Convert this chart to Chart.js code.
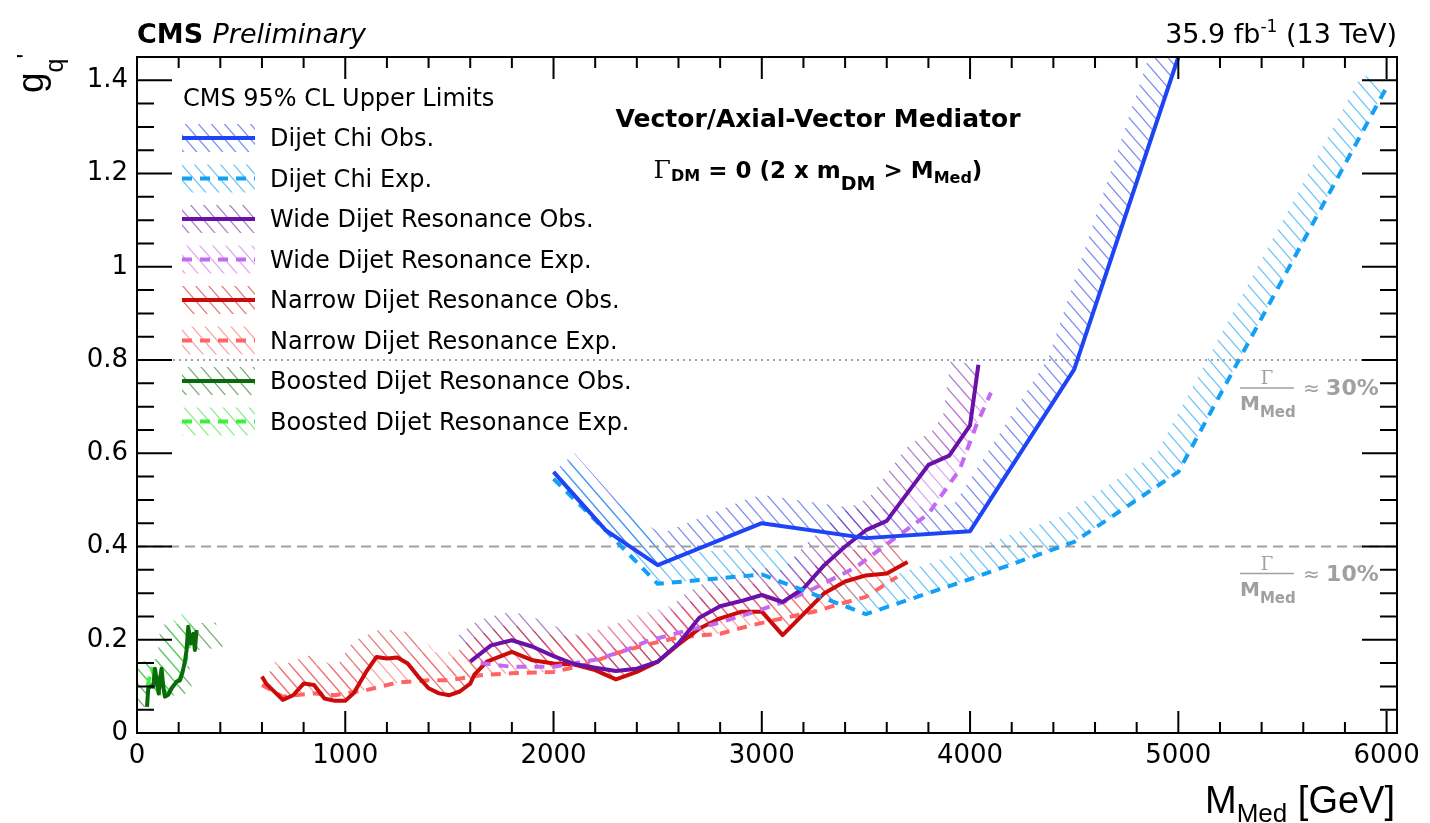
<!DOCTYPE html>
<html>
<head>
<meta charset="utf-8">
<title>Dijet DM limits</title>
<script src="https://cdn.jsdelivr.net/npm/chart.js@4.4.1/dist/chart.umd.min.js"></script>
<style>
  html, body { margin: 0; padding: 0; background: #fff; }
  canvas { display: block; }
</style>
</head>
<body>
<canvas id="grafico" width="1430" height="823"></canvas>
<script>
// x = M_Med (GeV), y = g_q' upper limit
const chiObsX = [2000, 2250, 2500, 3000, 3500, 4000, 4500, 5000];
const chiObsY = [0.56, 0.435, 0.36, 0.45, 0.418, 0.433, 0.78, 1.45];
const chiExpX = [2000, 2250, 2500, 3000, 3500, 4000, 4500, 5000, 6000];
const chiExpY = [0.545, 0.435, 0.32, 0.34, 0.255, 0.33, 0.41, 0.56, 1.385];

const wideObsX = [1600, 1700, 1800, 1900, 2000, 2100, 2200, 2300, 2400, 2500, 2600, 2700, 2800, 2900, 3000, 3100, 3200, 3300, 3400, 3500, 3600, 3700, 3800, 3900, 4000, 4040];
const wideObsY = [0.153, 0.188, 0.199, 0.185, 0.165, 0.148, 0.14, 0.133, 0.138, 0.153, 0.192, 0.247, 0.272, 0.283, 0.296, 0.281, 0.31, 0.36, 0.40, 0.435, 0.455, 0.515, 0.575, 0.595, 0.66, 0.79];
const wideExpX = [1650, 1800, 2000, 2200, 2350, 2450, 2600, 2800, 2950, 3100, 3250, 3450, 3600, 3800, 3950, 4030, 4100];
const wideExpY = [0.15, 0.142, 0.142, 0.157, 0.178, 0.197, 0.215, 0.237, 0.258, 0.28, 0.31, 0.355, 0.405, 0.47, 0.565, 0.66, 0.73];

const narrowObsX = [600, 620, 700, 750, 800, 850, 900, 950, 1000, 1040, 1100, 1150, 1200, 1250, 1300, 1350, 1400, 1450, 1500, 1550, 1600, 1620, 1680, 1800, 1900, 2000, 2100, 2200, 2300, 2400, 2500, 2600, 2700, 2800, 2900, 3000, 3100, 3200, 3300, 3400, 3500, 3600, 3700];
const narrowObsY = [0.121, 0.106, 0.071, 0.081, 0.106, 0.103, 0.074, 0.069, 0.069, 0.085, 0.131, 0.163, 0.16, 0.162, 0.149, 0.121, 0.096, 0.085, 0.081, 0.089, 0.106, 0.125, 0.153, 0.174, 0.156, 0.149, 0.147, 0.135, 0.115, 0.131, 0.153, 0.19, 0.224, 0.246, 0.26, 0.26, 0.21, 0.255, 0.30, 0.325, 0.338, 0.342, 0.367];
const narrowExpX = [600, 700, 850, 950, 1100, 1250, 1400, 1500, 1650, 1800, 2000, 2150, 2300, 2450, 2600, 2800, 2950, 3100, 3250, 3400, 3500, 3650];
const narrowExpY = [0.103, 0.078, 0.085, 0.081, 0.092, 0.108, 0.113, 0.113, 0.124, 0.128, 0.131, 0.146, 0.171, 0.19, 0.205, 0.213, 0.231, 0.246, 0.26, 0.28, 0.292, 0.335];

const boostObsX = [48, 54, 66, 78, 86, 96, 104, 112, 118, 126, 134, 142, 150, 166, 190, 206, 219, 230, 238, 246, 258, 270, 278, 286];
const boostObsY = [0.056, 0.096, 0.10, 0.099, 0.138, 0.11, 0.085, 0.12, 0.138, 0.10, 0.078, 0.08, 0.082, 0.096, 0.11, 0.113, 0.131, 0.153, 0.178, 0.228, 0.192, 0.213, 0.178, 0.221];
const boostExpX = [50, 70, 90, 110, 130, 150, 170, 190, 210, 230, 250, 270, 294];
const boostExpY = [0.10, 0.138, 0.115, 0.08, 0.09, 0.085, 0.098, 0.108, 0.12, 0.15, 0.19, 0.2, 0.205];

// width/mass reference lines
const refX = [0, 6050];
const ref30Y = [0.8, 0.8];
const ref10Y = [0.4, 0.4];

const xTicks = [0, 1000, 2000, 3000, 4000, 5000, 6000];
const yTicks = [0, 0.2, 0.4, 0.6, 0.8, 1, 1.2, 1.4];

const FONT = '"DejaVu Sans"';
const GRAY = '#a0a0a0';
const HATCH_W = 28;

function pts(xs, ys) {
  return xs.map((x, i) => ({ x: x, y: ys[i] }));
}

function serie(label, xs, ys, color, hatch, dashed) {
  return {
    label: label,
    data: pts(xs, ys),
    borderColor: color,
    borderWidth: 4,
    borderDash: dashed ? [10, 8] : [],
    hatchColor: hatch,
    pointRadius: 0,
    tension: 0,
    fill: false,
    borderJoinStyle: 'round'
  };
}

// small tile with one "\" stroke, repeated as pattern
function hatchTile(color) {
  const t = document.createElement('canvas');
  t.width = 13; t.height = 15;
  const c = t.getContext('2d');
  c.strokeStyle = color;
  c.lineWidth = 1.2;
  for (let k = -1; k <= 1; k++) {
    c.beginPath();
    c.moveTo(k * 13 - 2, -2 * 15 / 13);
    c.lineTo(k * 13 + 15, 15 * 15 / 13);
    c.stroke();
  }
  return t;
}

const datasets = [
  serie('Dijet Chi Obs.', chiObsX, chiObsY, '#1d44f5', 'rgba(50,80,235,0.65)', false),
  serie('Dijet Chi Exp.', chiExpX, chiExpY, '#12a0f5', 'rgba(30,165,245,0.65)', true),
  serie('Wide Dijet Resonance Obs.', wideObsX, wideObsY, '#6a11a8', 'rgba(115,40,160,0.6)', false),
  serie('Wide Dijet Resonance Exp.', wideExpX, wideExpY, '#c46af2', 'rgba(205,120,240,0.65)', true),
  serie('Narrow Dijet Resonance Obs.', narrowObsX, narrowObsY, '#cc0a0a', 'rgba(210,30,30,0.6)', false),
  serie('Narrow Dijet Resonance Exp.', narrowExpX, narrowExpY, '#ff6464', 'rgba(255,110,110,0.65)', true),
  serie('Boosted Dijet Resonance Obs.', boostObsX, boostObsY, '#0a6b0a', 'rgba(30,115,30,0.6)', false),
  serie('Boosted Dijet Resonance Exp.', boostExpX, boostExpY, '#3df03d', 'rgba(70,230,70,0.65)', true),
  { label: 'ref30', data: pts(refX, ref30Y), borderColor: GRAY, borderWidth: 2, borderDash: [2, 4], pointRadius: 0, fill: false },
  { label: 'ref10', data: pts(refX, ref10Y), borderColor: GRAY, borderWidth: 2, borderDash: [10, 6], pointRadius: 0, fill: false }
];

// hatched strip on the upper (excluded) side of each limit curve
const hatchPlugin = {
  id: 'hatch',
  beforeDatasetsDraw(chart) {
    const ctx = chart.ctx;
    const a = chart.chartArea;
    chart.data.datasets.forEach((ds, i) => {
      if (!ds.hatchColor) return;
      const p = chart.getDatasetMeta(i).data.map(e => ({ x: e.x, y: e.y }));
      const off = document.createElement('canvas');
      off.width = chart.width; off.height = chart.height;
      const o = off.getContext('2d');
      o.fillStyle = '#000';
      const nrm = [];
      for (let k = 0; k < p.length - 1; k++) {
        const dx = p[k + 1].x - p[k].x, dy = p[k + 1].y - p[k].y;
        const len = Math.hypot(dx, dy) || 1;
        nrm.push({ x: dy / len * HATCH_W, y: -dx / len * HATCH_W });
      }
      for (let k = 0; k < nrm.length; k++) {
        const a1 = p[k], b1 = p[k + 1], n = nrm[k];
        o.beginPath();
        o.moveTo(a1.x, a1.y);
        o.lineTo(b1.x, b1.y);
        o.lineTo(b1.x + n.x, b1.y + n.y);
        o.lineTo(a1.x + n.x, a1.y + n.y);
        o.closePath();
        o.fill();
        if (k > 0) {
          const m = nrm[k - 1];
          o.beginPath();
          o.moveTo(a1.x, a1.y);
          o.lineTo(a1.x + m.x, a1.y + m.y);
          o.lineTo(a1.x + n.x, a1.y + n.y);
          o.closePath();
          o.fill();
        }
      }
      o.globalCompositeOperation = 'source-in';
      o.fillStyle = o.createPattern(hatchTile(ds.hatchColor), 'repeat');
      o.fillRect(0, 0, off.width, off.height);
      ctx.save();
      ctx.beginPath();
      ctx.rect(a.left, a.top, a.right - a.left, a.bottom - a.top);
      ctx.clip();
      ctx.drawImage(off, 0, 0, chart.width, chart.height);
      ctx.restore();
    });
  }
};

// draw text pieces one after another (sub/superscripts)
function runs(ctx, x, y, parts, align) {
  let total = 0;
  parts.forEach(r => { ctx.font = r.f; r.w = ctx.measureText(r.t).width; total += r.w; });
  let cx = align === 'right' ? x - total : (align === 'center' ? x - total / 2 : x);
  parts.forEach(r => {
    ctx.font = r.f;
    ctx.fillStyle = r.c || '#000';
    ctx.fillText(r.t, cx, y + (r.dy || 0));
    cx += r.w;
  });
}

function widthLabel(ctx, yBar, pct) {
  ctx.strokeStyle = GRAY;
  ctx.lineWidth = 1.5;
  ctx.beginPath();
  ctx.moveTo(1240, yBar);
  ctx.lineTo(1294, yBar);
  ctx.stroke();
  ctx.fillStyle = GRAY;
  ctx.textAlign = 'center';
  ctx.font = '18px "DejaVu Serif"';
  ctx.fillText('\u0393', 1267, yBar - 4);
  ctx.textAlign = 'left';
  runs(ctx, 1240, yBar + 22, [
    { t: 'M', f: 'bold 20px ' + FONT, c: GRAY },
    { t: 'Med', f: 'bold 15px ' + FONT, c: GRAY, dy: 7 }
  ]);
  runs(ctx, 1303, yBar + 7, [
    { t: '\u2248 ', f: '20px ' + FONT, c: GRAY },
    { t: pct, f: 'bold 22px ' + FONT, c: GRAY }
  ]);
}

// frame, inner ticks and all the ROOT style text
const decorPlugin = {
  id: 'decor',
  afterDraw(chart) {
    const ctx = chart.ctx;
    const a = chart.chartArea;
    const xs = chart.scales.x, ys = chart.scales.y;
    ctx.save();
    ctx.strokeStyle = '#000';
    ctx.lineWidth = 2;
    ctx.strokeRect(a.left, a.top, a.right - a.left, a.bottom - a.top);

    ctx.beginPath();
    for (let v = 0; v <= 6000; v += 200) {
      const px = xs.getPixelForValue(v);
      const len = v % 1000 === 0 ? 22 : 11;
      ctx.moveTo(px, a.bottom); ctx.lineTo(px, a.bottom - len);
      ctx.moveTo(px, a.top); ctx.lineTo(px, a.top + len);
    }
    for (let k = 0; k <= 29; k++) {
      const v = k * 0.05;
      const py = ys.getPixelForValue(v);
      const len = k % 4 === 0 ? 35 : 17;
      ctx.moveTo(a.left, py); ctx.lineTo(a.left + len, py);
      ctx.moveTo(a.right, py); ctx.lineTo(a.right - len, py);
    }
    ctx.stroke();

    ctx.textBaseline = 'alphabetic';
    ctx.textAlign = 'left';
    runs(ctx, 137, 43, [
      { t: 'CMS ', f: 'bold 27px ' + FONT },
      { t: 'Preliminary', f: 'italic 27px ' + FONT }
    ]);
    runs(ctx, 1397, 43, [
      { t: '35.9 fb', f: '27px ' + FONT },
      { t: '-1', f: '17px ' + FONT, dy: -11 },
      { t: ' (13 TeV)', f: '27px ' + FONT }
    ], 'right');

    // axis titles
    runs(ctx, 1395, 813, [
      { t: 'M', f: '38px "Liberation Sans"' },
      { t: 'Med', f: '26px "Liberation Sans"', dy: 9 },
      { t: ' [GeV]', f: '38px "Liberation Sans"' }
    ], 'right');
    ctx.save();
    ctx.translate(43, 93);
    ctx.rotate(-Math.PI / 2);
    runs(ctx, 0, 0, [
      { t: 'g', f: '37px "Liberation Sans"' },
      { t: 'q', f: '25px "Liberation Sans"', dy: 20 },
      { t: '\'', f: '25px "Liberation Sans"', dy: -8 }
    ]);
    ctx.restore();

    // model text
    ctx.textAlign = 'center';
    ctx.font = 'bold 25px ' + FONT;
    ctx.fillStyle = '#000';
    ctx.fillText('Vector/Axial-Vector Mediator', 818, 127);
    ctx.textAlign = 'left';
    runs(ctx, 818, 178, [
      { t: '\u0393', f: '25px "DejaVu Serif"' },
      { t: 'DM', f: 'bold 16px ' + FONT, dy: 3 },
      { t: ' = 0 (2 x m', f: 'bold 23px ' + FONT },
      { t: 'DM', f: 'bold 19px ' + FONT, dy: 12 },
      { t: ' > M', f: 'bold 23px ' + FONT },
      { t: 'Med', f: 'bold 16px ' + FONT, dy: 5 },
      { t: ')', f: 'bold 23px ' + FONT }
    ], 'center');

    widthLabel(ctx, ys.getPixelForValue(0.8) + 28, '30%');
    widthLabel(ctx, ys.getPixelForValue(0.4) + 27, '10%');

    // legend
    ctx.font = '24px ' + FONT;
    ctx.fillStyle = '#000';
    ctx.fillText('CMS 95% CL Upper Limits', 183, 106);
    chart.data.datasets.filter(d => d.hatchColor).forEach((ds, i) => {
      const yc = 138 + i * 40.5;
      ctx.fillStyle = ctx.createPattern(hatchTile(ds.hatchColor), 'repeat');
      ctx.fillRect(182, yc - 14, 73, 28);
      ctx.strokeStyle = ds.borderColor;
      ctx.lineWidth = 4;
      ctx.setLineDash(ds.borderDash);
      ctx.beginPath();
      ctx.moveTo(182, yc);
      ctx.lineTo(255, yc);
      ctx.stroke();
      ctx.setLineDash([]);
      ctx.fillStyle = '#000';
      ctx.font = '24px ' + FONT;
      ctx.fillText(ds.label, 270, yc + 8);
    });
    ctx.restore();
  }
};

const ctx = document.getElementById('grafico').getContext('2d');
const grafico = new Chart(ctx, {
  type: 'line',
  data: { datasets: datasets },
  options: {
    responsive: false,
    animation: false,
    devicePixelRatio: 1,
    layout: { padding: { top: 57, right: 33, left: 0, bottom: 0 } },
    scales: {
      x: {
        type: 'linear',
        min: 0,
        max: 6050,
        afterBuildTicks: s => { s.ticks = xTicks.map(v => ({ value: v })); },
        afterFit: s => { s.height = 90; },
        grid: { display: false, drawTicks: false },
        border: { display: false },
        ticks: { font: { family: 'DejaVu Sans', size: 26 }, color: '#000', padding: 8, maxRotation: 0, callback: v => String(v) }
      },
      y: {
        type: 'linear',
        min: 0,
        max: 1.45,
        afterBuildTicks: s => { s.ticks = yTicks.map(v => ({ value: v })); },
        afterFit: s => { s.width = 137; },
        grid: { display: false, drawTicks: false },
        border: { display: false },
        ticks: { font: { family: 'DejaVu Sans', size: 26 }, color: '#000', padding: 9, callback: v => String(v) }
      }
    },
    plugins: {
      legend: { display: false },
      tooltip: { enabled: false }
    }
  },
  plugins: [hatchPlugin, decorPlugin]
});
</script>
</body>
</html>
